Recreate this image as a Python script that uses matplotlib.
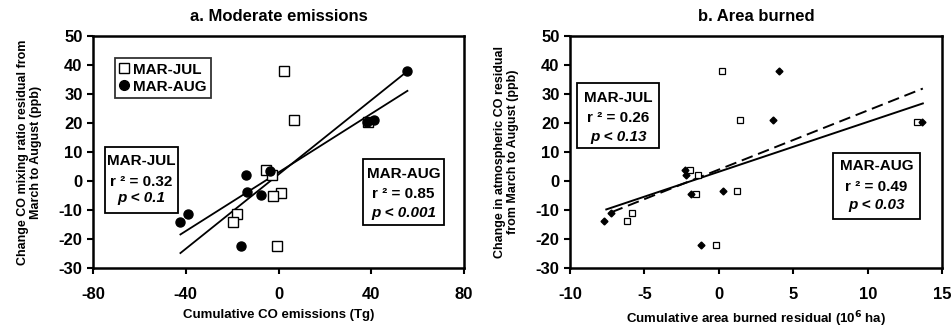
import matplotlib
matplotlib.use("Agg")
import matplotlib.pyplot as plt
from matplotlib.patches import Rectangle
from matplotlib.lines import Line2D
import numpy as np

plt.rcParams['font.family'] = ['Liberation Sans', 'DejaVu Sans']
plt.rcParams['font.weight'] = 'bold'
plt.rcParams['axes.unicode_minus'] = False

# --- данные, панель a: накопленные эмиссии CO (Тг) ---
co_resid_jul = [37.9, 20.9, 20.3, 3.7, 2.0, -4.0, -5.0, -11.3, -14.2, -22.5]
co_emis_jul = [2.3, 6.8, 38.5, -5.2, -3.0, 0.9, -2.3, -18.1, -19.8, -0.7]
co_resid_aug = [37.9, 21.0, 20.2, 3.5, 2.0, -3.8, -4.7, -11.3, -14.2, -22.5]
co_emis_aug = [55.6, 41.3, 38.3, -3.7, -14.1, -13.5, -7.6, -39.2, -42.3, -16.0]
# линии регрессии (наклон, свободный член)
fit_a_slope = [0.641, 0.506]
fit_a_icept = [2.26, 2.97]
fit_a_xrange = [-42.3, 55.6]

# --- данные, панель b: площадь пожаров (10^6 га) ---
area_jul = [0.2, 1.43, 13.3, -1.97, -1.43, 1.21, -1.55, -5.85, -6.19, -0.2]
resid_b_jul = [37.8, 21.0, 20.3, 3.7, 2.2, -3.6, -4.4, -11.1, -13.9, -22.1]
area_aug = [4.01, 3.63, 13.65, -2.26, -2.24, 0.25, -1.88, -7.26, -7.71, -1.19]
resid_b_aug = [37.8, 21.0, 20.3, 3.9, 2.2, -3.6, -4.4, -11.1, -13.9, -22.1]
fit_b_solid = (1.72, 3.2, [-7.56, 13.7])
fit_b_dash = (2.04, 3.95, [-7.2, 13.7])

fig = plt.figure(figsize=(9.52, 3.28), dpi=100)
ax1 = fig.add_axes([0.0977, 0.183, 0.3897, 0.707])
ax2 = fig.add_axes([0.5987, 0.183, 0.391, 0.707])


def style_axes(ax, xticks):
    ax.set_ylim(-30, 50)
    ax.set_yticks(range(-30, 51, 10))
    ax.set_xlim(xticks[0], xticks[-1])
    ax.set_xticks(xticks)
    for s in ax.spines.values():
        s.set_linewidth(1.8)
    ax.tick_params(direction='out', length=4, width=1.5, labelsize=12)
    ax.tick_params(axis='x', pad=10)
    for lab in ax.get_xticklabels() + ax.get_yticklabels():
        lab.set_fontweight('bold')


def stat_box(ax, x0, x1, y0, y1, name, r2, p, ys):
    ax.add_patch(Rectangle((x0, y0), x1 - x0, y1 - y0, transform=ax.transAxes,
                           fill=True, facecolor='white', edgecolor='black', lw=1.3, zorder=5))
    xc = (x0 + x1) / 2
    kw = dict(transform=ax.transAxes, ha='center', va='center', fontsize=11,
              fontweight='bold', zorder=6)
    ax.text(xc, ys[0], name, **kw)
    ax.text(xc, ys[1], "r \u00b2 = " + r2, **kw)
    ax.text(xc, ys[2], "p < " + p, style='italic', **kw)


# ---------------- панель a ----------------
style_axes(ax1, [-80, -40, 0, 40, 80])
ax1.plot(co_emis_jul, co_resid_jul, 's', mfc='white', mec='black', mew=1.0, ms=6.5, zorder=3)
ax1.plot(co_emis_aug, co_resid_aug, 'o', mfc='black', mec='black', ms=6.5, zorder=4)
xx = np.array(fit_a_xrange)
for k, b in zip(fit_a_slope, fit_a_icept):
    ax1.plot(xx, k * xx + b, color='black', lw=1.3, zorder=2)

handles = [Line2D([], [], marker='s', ls='none', mfc='white', mec='black', ms=7),
           Line2D([], [], marker='o', ls='none', mfc='black', mec='black', ms=7)]
leg = ax1.legend(handles, ['MAR-JUL', 'MAR-AUG'], loc='upper left',
                 bbox_to_anchor=(0.059, 0.905), borderaxespad=0, fancybox=False,
                 handlelength=0.6, handletextpad=0.3, borderpad=0.3, labelspacing=0.2,
                 prop={'weight': 'bold', 'size': 11})
leg.get_frame().set_edgecolor('black')
leg.get_frame().set_linewidth(1.3)

stat_box(ax1, 0.032, 0.229, 0.237, 0.522, 'MAR-JUL', '0.32', '0.1', [0.4625, 0.372, 0.300])
stat_box(ax1, 0.728, 0.945, 0.185, 0.470, 'MAR-AUG', '0.85', '0.001', [0.405, 0.319, 0.235])

ax1.set_title("a. Moderate emissions", fontsize=12, fontweight='bold', pad=11)
ax1.set_xlabel("Cumulative CO emissions (Tg)", fontsize=9.5, fontweight='bold', labelpad=5)
ax1.set_ylabel("Change CO mixing ratio residual from\nMarch to August (ppb)", fontsize=9,
               fontweight='bold', labelpad=12, linespacing=1.1)

# ---------------- панель b ----------------
style_axes(ax2, [-10, -5, 0, 5, 10, 15])
ax2.plot(area_jul, resid_b_jul, 's', mfc='white', mec='black', mew=0.9, ms=5, zorder=3)
ax2.plot(area_aug, resid_b_aug, 'D', mfc='black', mec='black', ms=3.5, zorder=4)
k, b, xr = fit_b_solid
xx = np.array(xr)
ax2.plot(xx, k * xx + b, color='black', lw=1.4, zorder=2)
k, b, xr = fit_b_dash
xx = np.array(xr)
ax2.plot(xx, k * xx + b, color='black', lw=1.4, ls=(0, (6, 3)), zorder=2)

stat_box(ax2, 0.020, 0.239, 0.516, 0.799, 'MAR-JUL', '0.26', '0.13', [0.731, 0.645, 0.566])
stat_box(ax2, 0.706, 0.941, 0.210, 0.497, 'MAR-AUG', '0.49', '0.03', [0.440, 0.348, 0.272])

ax2.set_title("b. Area burned", fontsize=12, fontweight='bold', pad=11)
ax2.set_xlabel("Cumulative area burned residual (10$^{6}$ ha)", fontsize=9.5,
               fontweight='bold', labelpad=5)
ax2.set_ylabel("Change in atmospheric CO residual\nfrom March to August (ppb)", fontsize=9,
               fontweight='bold', labelpad=12, linespacing=1.1)

fig.savefig("out.png", dpi=100)
